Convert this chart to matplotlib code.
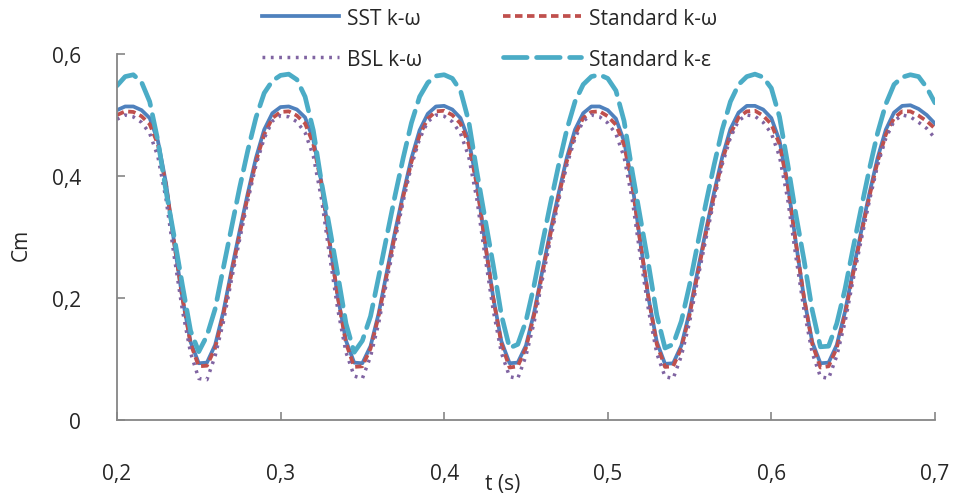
import numpy as np
from matplotlib import pyplot as plt

# time grid, 5 ms steps from 0.2 s to 0.7 s
t = np.round(np.arange(0.200, 0.7001, 0.005), 3)

# SST k-omega
sst = [0.508,
       0.514, 0.514, 0.508, 0.495, 0.458, 0.388, 0.290, 0.200, 0.128, 0.093,
       0.094, 0.123, 0.177, 0.245, 0.310, 0.372, 0.430, 0.476, 0.503,
       0.513, 0.514, 0.509, 0.496, 0.460, 0.390, 0.292, 0.202, 0.130, 0.094,
       0.093, 0.121, 0.175, 0.243, 0.309, 0.371, 0.429, 0.475, 0.502,
       0.514, 0.515, 0.509, 0.495, 0.459, 0.389, 0.291, 0.201, 0.129, 0.093,
       0.094, 0.122, 0.176, 0.244, 0.310, 0.372, 0.430, 0.476, 0.503,
       0.514, 0.514, 0.508, 0.494, 0.457, 0.387, 0.290, 0.199, 0.128, 0.092,
       0.093, 0.122, 0.177, 0.245, 0.311, 0.373, 0.431, 0.477, 0.504,
       0.515, 0.515, 0.509, 0.495, 0.458, 0.388, 0.291, 0.200, 0.128, 0.093,
       0.094, 0.123, 0.177, 0.245, 0.310, 0.372, 0.430, 0.476, 0.504,
       0.515, 0.516, 0.510, 0.500, 0.486]

# Standard k-omega
std_kw = [0.500,
          0.506, 0.505, 0.498, 0.485, 0.452, 0.385, 0.290, 0.200, 0.125, 0.088,
          0.089, 0.118, 0.172, 0.240, 0.305, 0.367, 0.424, 0.468, 0.495,
          0.505, 0.506, 0.499, 0.486, 0.453, 0.386, 0.291, 0.201, 0.126, 0.087,
          0.088, 0.117, 0.171, 0.239, 0.304, 0.366, 0.423, 0.467, 0.494,
          0.506, 0.507, 0.500, 0.486, 0.452, 0.385, 0.290, 0.200, 0.125, 0.086,
          0.088, 0.118, 0.172, 0.240, 0.305, 0.367, 0.424, 0.468, 0.495,
          0.505, 0.506, 0.498, 0.484, 0.451, 0.384, 0.289, 0.199, 0.124, 0.087,
          0.088, 0.118, 0.172, 0.240, 0.306, 0.368, 0.425, 0.469, 0.496,
          0.506, 0.507, 0.499, 0.485, 0.452, 0.385, 0.290, 0.200, 0.125, 0.086,
          0.088, 0.118, 0.172, 0.240, 0.305, 0.367, 0.424, 0.468, 0.495,
          0.506, 0.506, 0.499, 0.490, 0.478]

# BSL k-omega
bsl = [0.493,
       0.500, 0.497, 0.488, 0.470, 0.432, 0.362, 0.268, 0.180, 0.110, 0.068,
       0.066, 0.105, 0.160, 0.230, 0.296, 0.360, 0.418, 0.462, 0.490,
       0.499, 0.497, 0.489, 0.471, 0.433, 0.363, 0.269, 0.181, 0.111, 0.072,
       0.068, 0.104, 0.159, 0.229, 0.295, 0.359, 0.417, 0.461, 0.489,
       0.500, 0.498, 0.489, 0.470, 0.432, 0.362, 0.268, 0.180, 0.110, 0.071,
       0.068, 0.105, 0.160, 0.230, 0.296, 0.360, 0.418, 0.462, 0.490,
       0.500, 0.497, 0.487, 0.469, 0.431, 0.361, 0.267, 0.179, 0.109, 0.071,
       0.068, 0.105, 0.160, 0.231, 0.297, 0.361, 0.419, 0.463, 0.491,
       0.500, 0.498, 0.488, 0.470, 0.432, 0.362, 0.268, 0.180, 0.110, 0.071,
       0.068, 0.105, 0.160, 0.230, 0.296, 0.360, 0.418, 0.462, 0.490,
       0.500, 0.497, 0.488, 0.478, 0.462]

# Standard k-epsilon
std_ke = [0.548,
          0.563, 0.566, 0.554, 0.522, 0.458, 0.375, 0.300, 0.221, 0.146, 0.112,
          0.138, 0.182, 0.249, 0.315, 0.381, 0.442, 0.496, 0.536, 0.556,
          0.565, 0.567, 0.558, 0.530, 0.475, 0.390, 0.315, 0.238, 0.158, 0.111,
          0.130, 0.170, 0.235, 0.302, 0.368, 0.430, 0.487, 0.530, 0.553,
          0.564, 0.566, 0.560, 0.540, 0.490, 0.407, 0.330, 0.254, 0.172, 0.118,
          0.124, 0.162, 0.221, 0.289, 0.355, 0.418, 0.476, 0.522, 0.550,
          0.563, 0.566, 0.560, 0.540, 0.490, 0.407, 0.330, 0.254, 0.172, 0.118,
          0.124, 0.162, 0.221, 0.289, 0.355, 0.418, 0.476, 0.522, 0.550,
          0.563, 0.567, 0.562, 0.544, 0.497, 0.420, 0.337, 0.262, 0.180, 0.120,
          0.121, 0.158, 0.214, 0.282, 0.348, 0.412, 0.471, 0.518, 0.550,
          0.562, 0.566, 0.563, 0.545, 0.520]

x_ticks = [0.2, 0.3, 0.4, 0.5, 0.6, 0.7]
x_labels = ["0,2", "0,3", "0,4", "0,5", "0,6", "0,7"]
y_ticks = [0, 0.2, 0.4, 0.6]
y_labels = ["0", "0,2", "0,4", "0,6"]

plt.rcParams['font.family'] = ['Open Sans', 'DejaVu Sans']
text_col = "#262626"
axis_col = "#868686"

fig = plt.figure(figsize=(9.54, 5.02), dpi=100)
ax = fig.add_axes([0.1226, 0.1614, 0.8574, 0.729])

ax.plot(t, sst, color="#4F81BD", lw=2.7, label="SST k-\u03c9")
ax.plot(t, std_kw, color="#C0504D", lw=2.7, linestyle=(0, (2.0, 1.2)), label="Standard k-\u03c9")
ax.plot(t, bsl, color="#8064A2", lw=2.5, linestyle=(0, (0.8, 1.6)), label="BSL k-\u03c9")
ax.plot(t, std_ke, color="#4BACC6", lw=3.4, linestyle=(0, (5.0, 2.0)),
        dash_capstyle="round", label="Standard k-\u03b5")

ax.set_xlim(0.2, 0.7)
ax.set_ylim(0, 0.6)
ax.set_xticks(x_ticks)
ax.set_xticklabels(x_labels)
ax.set_yticks(y_ticks)
ax.set_yticklabels(y_labels)

for side in ["top", "right"]:
    ax.spines[side].set_visible(False)
for side in ["left", "bottom"]:
    ax.spines[side].set_color(axis_col)
    ax.spines[side].set_linewidth(1.3)

ax.tick_params(axis="x", direction="in", length=6, width=1.2, color=axis_col,
               labelsize=15, labelcolor=text_col, pad=31)
ax.tick_params(axis="y", direction="in", length=6, width=1.2, color=axis_col,
               labelsize=15, labelcolor=text_col, pad=26)

ax.set_xlabel("t (s)", fontsize=15, color=text_col)
ax.xaxis.set_label_coords(0.472, -0.145)
ax.set_ylabel("Cm", fontsize=15, color=text_col)
ax.yaxis.set_label_coords(-0.104, 0.48)

handles, labels = ax.get_legend_handles_labels()
order = [0, 2, 1, 3]
leg = fig.legend([handles[i] for i in order], [labels[i] for i in order],
                 ncol=2, loc="upper center", bbox_to_anchor=(0.513, 1.02),
                 frameon=False, fontsize=15, handlelength=3.7, handletextpad=0.4,
                 columnspacing=3.9, labelspacing=0.95)
for txt in leg.get_texts():
    txt.set_color(text_col)

fig.savefig("out.png", dpi=100)
